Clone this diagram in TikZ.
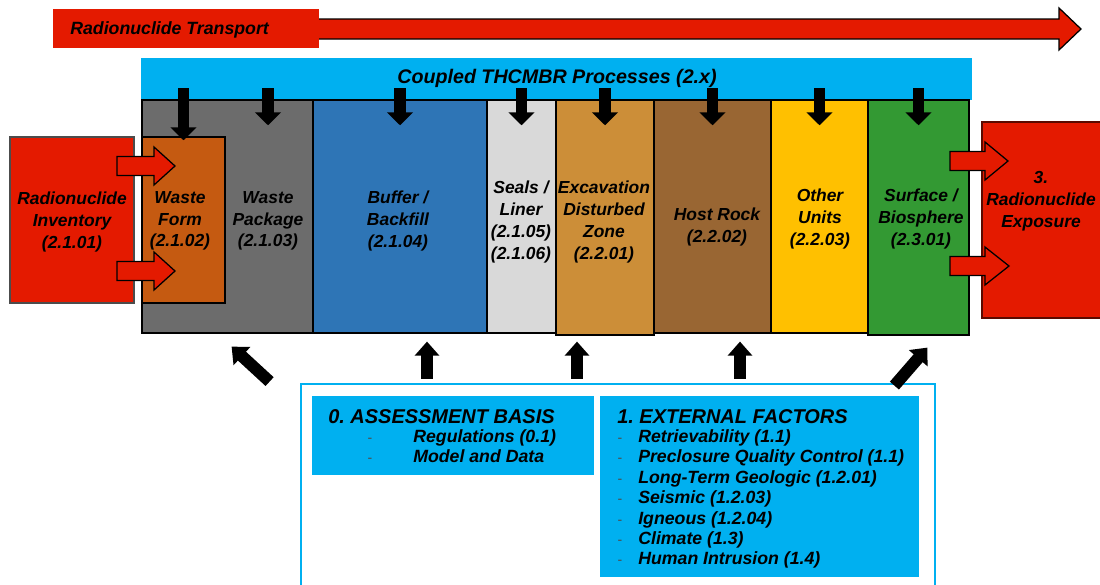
\documentclass[tikz,border=0pt]{standalone}
\usepackage{fontspec}
\setmainfont{Liberation Sans}
\usetikzlibrary{fit, arrows.meta}
\frenchspacing

\definecolor{radred}{RGB}{228,26,0}
\definecolor{wfrust}{RGB}{197,90,17}
\definecolor{wpgray}{RGB}{108,108,108}
\definecolor{bufblue}{RGB}{46,117,182}
\definecolor{sealgray}{RGB}{217,217,217}
\definecolor{edzochre}{RGB}{204,142,56}
\definecolor{rockbrown}{RGB}{153,102,51}
\definecolor{unitgold}{RGB}{255,192,0}
\definecolor{biogreen}{RGB}{51,153,51}
\definecolor{thcyan}{RGB}{0,176,240}

\tikzset{
  zone/.style={draw=black, line width=1pt, inner sep=0pt},
  coltxt/.style={font=\fontsize{12.4}{15.5}\selectfont\bfseries\itshape, align=center, inner sep=0pt},
  itemtxt/.style={font=\fontsize{12.6}{15}\selectfont\bfseries\itshape, inner sep=0pt, anchor=base west},
  headtxt/.style={font=\fontsize{14.2}{16}\selectfont\bfseries\itshape, inner sep=0pt, anchor=base west},
  dashtxt/.style={font=\fontsize{10}{12}\selectfont, text=black!70, inner sep=0pt, anchor=base},
  redblk/.style={fill=radred, draw=black, line width=0.9pt},
  downarr/.style={line width=8.5pt, -{Triangle[length=9.2pt,width=18pt]}},
  uparr/.style={line width=8.5pt, -{Triangle[length=10pt,width=17pt]}}
}

\begin{document}
\begin{tikzpicture}[x=0.025cm, y=-0.025cm]
\useasboundingbox (0,0) rectangle (1100,585);

% transport arrow
\draw[redblk] (300,19) -- (1059,19) -- (1059,8) -- (1081,29) -- (1059,50) -- (1059,39) -- (300,39) -- cycle;
\node[fit={(53,9) (319,48)}, fill=radred, inner sep=0pt] (trans) {};
\node[itemtxt] (transtxt) at (70,34) {Radionuclide Transport};

% coupled processes
\node[fit={(141,58) (972,100)}, fill=thcyan, inner sep=0pt] (proc) {};
\node[font=\fontsize{14}{16}\selectfont\bfseries\itshape, inner sep=0pt] (proctxt) at (557,78) {Coupled THCMBR Processes (2.x)};

% zones
\node[zone, fill=wpgray, fit={(142,100) (313,333)}] (wp) {};
\node[zone, fill=bufblue, fit={(313,100) (487,333)}] (buf) {};
\node[zone, fill=sealgray, fit={(487,100) (556,333)}] (seal) {};
\node[zone, fill=edzochre, fit={(556,100) (654,335)}] (edz) {};
\node[zone, fill=rockbrown, fit={(654,100) (771,333)}] (host) {};
\node[zone, fill=unitgold, fit={(771,100) (868,333)}] (other) {};
\node[zone, fill=biogreen, fit={(868,100) (969,335)}] (bio) {};
\node[zone, fill=wfrust, fit={(142,137) (225,303)}] (wf) {};
\node[zone, fill=radred, draw=black!70, fit={(10,137) (134,303)}] (inv) {};
\node[zone, fill=radred, draw=black!60!radred, fit={(982,122) (1106,318)}] (expo) {};

\node[coltxt] (invtxt) at (72,222) {Radionuclide\\Inventory\\(2.1.01)};
\node[coltxt] (wftxt) at (180,221) {Waste\\Form\\(2.1.02)};
\node[coltxt] (wptxt) at (268,221) {Waste\\Package\\(2.1.03)};
\node[coltxt] (buftxt) at (398,221) {Buffer /\\Backfill\\(2.1.04)};
\node[coltxt] (sealtxt) at (521,222) {Seals /\\Liner\\(2.1.05)\\(2.1.06)};
\node[coltxt] (edztxt) at (604,222) {Excavation\\Disturbed\\Zone\\(2.2.01)};
\node[coltxt] (hosttxt) at (717,227) {Host Rock\\(2.2.02)};
\node[coltxt] (othertxt) at (820,219) {Other\\Units\\(2.2.03)};
\node[coltxt] (biotxt) at (921,219) {Surface /\\Biosphere\\(2.3.01)};
\node[coltxt] (expotxt) at (1041,201) {3.\\Radionuclide\\Exposure};

% red block arrows
\foreach \xa/\xb/\xc/\yc in {117/154/175/166, 117/154/175/271, 950/985/1008/161, 950/985/1009/266}
  \draw[redblk] (\xa,\yc-9.5) -- (\xb,\yc-9.5) -- (\xb,\yc-19) -- (\xc,\yc)
    -- (\xb,\yc+19) -- (\xb,\yc+9.5) -- (\xa,\yc+9.5) -- cycle;

% process arrows
\draw[downarr] (proc.south -| wf) ++(0,-12) -- ++(0,52);
\foreach \z in {wptxt, buf, seal, edz, host, other, bio}
  \draw[downarr] (proc.south -| \z) ++(0,-12) -- ++(0,37);

% assessment box
\node[fit={(301,384) (935,600)}, draw=thcyan, line width=2pt, fill=white, inner sep=0pt] (outer) {};
\node[fit={(312,396) (594,475)}, fill=thcyan, inner sep=0pt] (basis) {};
\node[fit={(600,396) (919,577)}, fill=thcyan, inner sep=0pt] (ext) {};

\foreach \x in {427, 577, 740}
  \draw[uparr] (\x,0 |- outer.north) ++(0,-4) -- ++(0,-37);
\draw[uparr] (outer.north west) ++(-30,-1) -- ++(-38,-35);
\draw[uparr] (outer.north east) ++(-42,3) -- ++(33,-38);

\node[headtxt] (basishd) at (328,423) {0. ASSESSMENT BASIS};
\foreach \t [count=\i] in {Regulations (0.1), Model and Data} {
  \node[dashtxt] (bdash\i) at (370,422+20.3*\i) {-};
  \node[itemtxt] (bitem\i) at (413,422+20.3*\i) {\t};
}

\node[headtxt] (exthd) at (617,423) {1. EXTERNAL FACTORS};
\foreach \t [count=\i] in {Retrievability (1.1), Preclosure Quality Control (1.1),
    Long-Term Geologic (1.2.01), Seismic (1.2.03), Igneous (1.2.04),
    Climate (1.3), Human Intrusion (1.4)} {
  \node[dashtxt] (edash\i) at (620,422+20.4*\i) {-};
  \node[itemtxt] (eitem\i) at (638,422+20.4*\i) {\t};
}
\end{tikzpicture}
\end{document}
